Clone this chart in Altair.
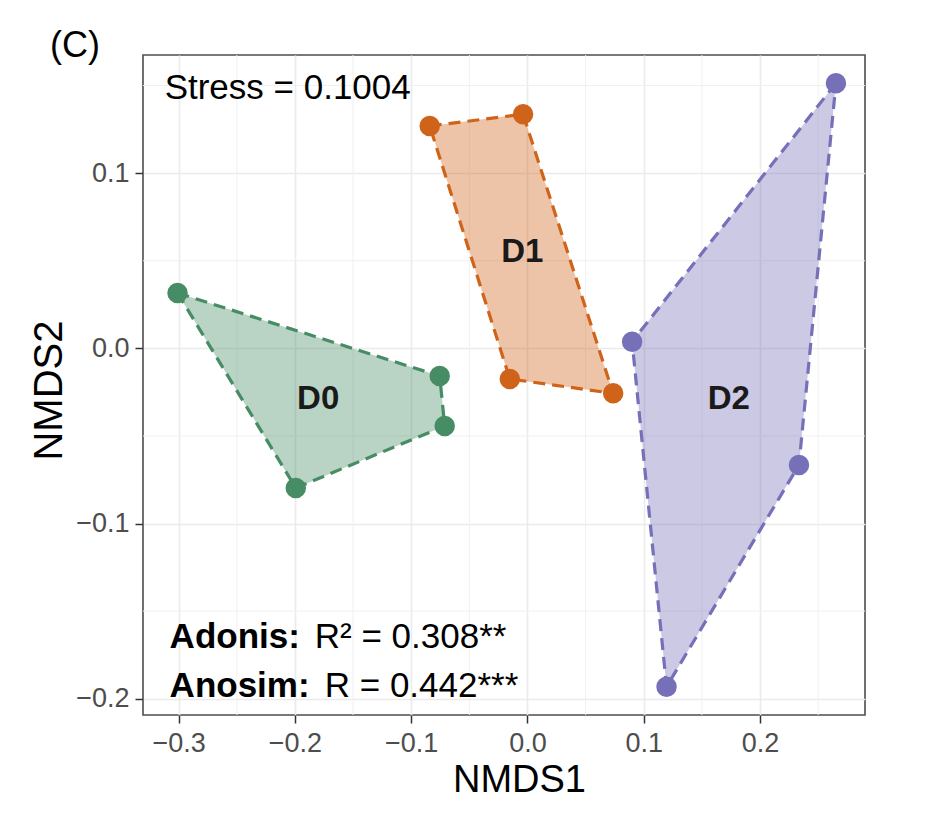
import altair as alt
import pandas as pd

FONT = "Liberation Sans"

# ---- data ----
group_names = ["D0", "D1", "D2"]
group_colors = ["#468C64", "#D0631A", "#7570B8"]

d0_x = [-0.301, -0.0755, -0.0712, -0.1993]
d0_y = [0.0316, -0.0158, -0.0444, -0.0797]
d1_x = [-0.0841, -0.0038, 0.0737, -0.0152]
d1_y = [0.1269, 0.1336, -0.0257, -0.0175]
d2_x = [0.2653, 0.0900, 0.1196, 0.2335]
d2_y = [0.1513, 0.0038, -0.1932, -0.0666]

label_x = [-0.180, -0.0045, 0.1732]
label_y = [-0.0289, 0.055, -0.0289]

x_ticks = [-0.3, -0.2, -0.1, 0.0, 0.1, 0.2]
y_ticks = [-0.2, -0.1, 0.0, 0.1]
x_minor = [-0.25, -0.15, -0.05, 0.05, 0.15, 0.25]
y_minor = [-0.15, -0.05, 0.05, 0.15]
x_domain = [-0.3307, 0.2903]
y_domain = [-0.2093, 0.1674]

panel_label = "(C)"
stress_text = "Stress = 0.1004"
stat_bold = ["Adonis:", "Anosim:"]
stat_plain = ["R\u00b2 = 0.308**", "R = 0.442***"]
stat_y = [-0.1711, -0.1990]
stat_bold_x = [-0.3078, -0.3078]
stat_plain_x = [-0.183, -0.1744]
stress_pos = [-0.3121, 0.1421]

# ---- tables ----
xs = [d0_x, d1_x, d2_x]
ys = [d0_y, d1_y, d2_y]
pts = pd.DataFrame(
    [{"g": g, "x": x, "y": y} for g, gx, gy in zip(group_names, xs, ys) for x, y in zip(gx, gy)]
)
poly_rows = []
for g, gx, gy in zip(group_names, xs, ys):
    n = len(gx)
    for i in range(n + 1):
        poly_rows.append({"g": g, "o": i, "x": gx[i % n], "y": gy[i % n]})
poly = pd.DataFrame(poly_rows)
labels = pd.DataFrame({"g": group_names, "x": label_x, "y": label_y})
stats = pd.DataFrame({"b": stat_bold, "p": stat_plain, "y": stat_y,
                      "bx": stat_bold_x, "px": stat_plain_x})
stress = pd.DataFrame({"t": [stress_text], "x": [stress_pos[0]], "y": [stress_pos[1]]})

xscale = alt.Scale(domain=x_domain, nice=False, zero=False)
yscale = alt.Scale(domain=y_domain, nice=False, zero=False)

xaxis = alt.Axis(values=x_ticks, format=".1f", title="NMDS1", grid=True,
                 titleX=376, titleY=76, titleBaseline="alphabetic", titleAlign="center",
                 labelPadding=7, titleFontSize=38)
yaxis = alt.Axis(values=y_ticks, format=".1f", title="NMDS2", grid=True,
                 titleX=-82, titleY=335, titleAngle=270, titleBaseline="alphabetic",
                 titleAlign="center", labelPadding=6)

X = alt.X("x:Q", scale=xscale, axis=xaxis)
Y = alt.Y("y:Q", scale=yscale, axis=yaxis)

vminor = alt.Chart(pd.DataFrame({"v": x_minor})).mark_rule(color="#f0f0f0", strokeWidth=1).encode(
    x=alt.X("v:Q", scale=xscale, axis=xaxis))
hminor = alt.Chart(pd.DataFrame({"v": y_minor})).mark_rule(color="#f0f0f0", strokeWidth=1).encode(
    y=alt.Y("v:Q", scale=yscale, axis=yaxis))

layers = [vminor, hminor]
for g, c in zip(group_names, group_colors):
    layers.append(
        alt.Chart(poly).transform_filter(alt.datum.g == g).mark_line(
            fill=c, fillOpacity=0.38, stroke=c, strokeDash=[12, 7], strokeWidth=3.2
        ).encode(x=X, y=Y, order="o:Q")
    )

points = alt.Chart(pts).mark_circle(size=420, opacity=1).encode(
    x=X, y=Y,
    color=alt.Color("g:N", scale=alt.Scale(domain=group_names, range=group_colors), legend=None),
)
glabels = alt.Chart(labels).mark_text(fontSize=33, fontWeight="bold", font=FONT, color="#1a1a1a").encode(
    x=X, y=Y, text="g:N")
stress_t = alt.Chart(stress).mark_text(fontSize=35, font=FONT, align="left", baseline="alphabetic",
                                       color="black").encode(x=X, y=Y, text="t:N")
bold_t = alt.Chart(stats).mark_text(fontSize=35, font=FONT, fontWeight="bold", align="left",
                                    baseline="alphabetic", color="black").encode(
    x=alt.X("bx:Q", scale=xscale, axis=xaxis), y=alt.Y("y:Q", scale=yscale, axis=yaxis), text="b:N")
plain_t = alt.Chart(stats).mark_text(fontSize=35, font=FONT, align="left",
                                     baseline="alphabetic", color="black").encode(
    x=alt.X("px:Q", scale=xscale, axis=xaxis), y=alt.Y("y:Q", scale=yscale, axis=yaxis), text="p:N")
panel_t = alt.Chart(pd.DataFrame({"t": [panel_label]})).mark_text(
    fontSize=36, font=FONT, align="left", baseline="alphabetic", color="black"
).encode(x=alt.value(-93), y=alt.value(2), text="t:N")

layers += [points, glabels, stress_t, bold_t, plain_t, panel_t]

chart = alt.layer(*layers).properties(
    width=722, height=660,
    autosize=alt.AutoSizeParams(type="none"),
    padding={"left": 135, "top": 47, "right": 53, "bottom": 91},
).configure_view(stroke="#4d4d4d", strokeWidth=1.6).configure_axis(
    domain=False, gridColor="#ebebeb", gridWidth=1.6, tickSize=8, tickColor="#333333",
    tickWidth=1.5, labelFontSize=27, labelColor="#4d4d4d", labelFont=FONT,
    titleFont=FONT, titleFontSize=40, titleFontWeight="normal", titleColor="black",
)

chart.save("out.html", embed_options={"renderer": "svg", "actions": False})
